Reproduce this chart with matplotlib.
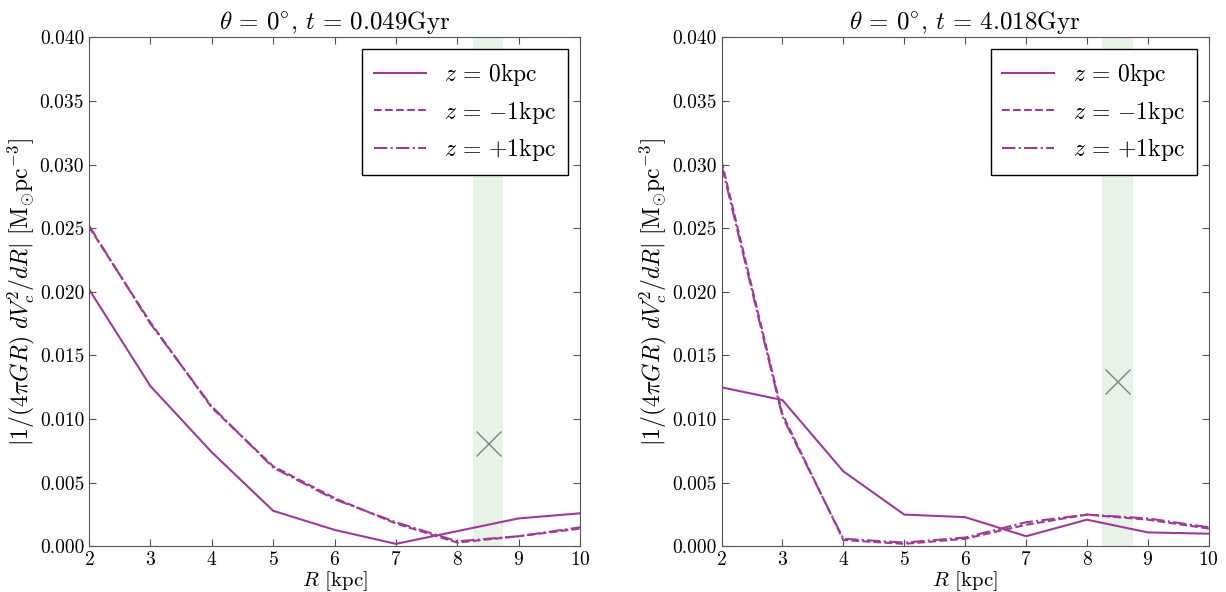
import numpy as np
import matplotlib
matplotlib.use("Agg")
import matplotlib.pyplot as plt

plt.rcParams['font.family'] = 'serif'
plt.rcParams['font.serif'] = ['cmr10', 'DejaVu Serif']
plt.rcParams['mathtext.fontset'] = 'cm'
plt.rcParams['axes.formatter.use_mathtext'] = True

# radius [kpc]
R = [2, 3, 4, 5, 6, 7, 8, 9, 10]

# t = 0.049 Gyr
left_z0 = [0.0202, 0.0126, 0.0074, 0.0028, 0.0013, 0.0002, 0.0012, 0.0022, 0.0026]
left_zm1 = [0.0251, 0.0176, 0.0109, 0.0063, 0.0038, 0.0018, 0.0003, 0.0008, 0.0014]
left_zp1 = [0.0252, 0.0175, 0.0110, 0.0062, 0.0037, 0.0019, 0.0004, 0.0008, 0.0015]

# t = 4.018 Gyr
right_z0 = [0.0125, 0.0115, 0.0059, 0.0025, 0.0023, 0.0008, 0.0021, 0.0011, 0.0010]
right_zm1 = [0.0303, 0.0104, 0.0005, 0.0002, 0.0006, 0.0017, 0.0025, 0.0021, 0.0014]
right_zp1 = [0.0300, 0.0102, 0.0006, 0.0003, 0.0007, 0.0019, 0.0025, 0.0022, 0.0015]

# solar position and measured value
sun_R = 8.5
sun_band = (8.25, 8.75)
sun_val = [0.0081, 0.0130]

titles = [r"$\theta\,=\,0^{\circ}$, $t\,=\,0.049$Gyr", r"$\theta\,=\,0^{\circ}$, $t\,=\,4.018$Gyr"]
labels = [r"$z\,=\,0$kpc", r"$z\,=\,{-}1$kpc", r"$z\,=\,{+}1$kpc"]

col = '#a03a98'

fig = plt.figure(figsize=(12.26, 5.92), dpi=100)
ax1 = fig.add_axes([0.0726, 0.077, 0.4005, 0.860])
ax2 = fig.add_axes([0.5885, 0.077, 0.3975, 0.860])

panels = [(ax1, left_z0, left_zm1, left_zp1),
          (ax2, right_z0, right_zm1, right_zp1)]

for i, (ax, z0, zm, zp) in enumerate(panels):
    ax.axvspan(sun_band[0], sun_band[1], color='#d8ecd8', alpha=0.6, lw=0)
    ax.plot(R, z0, '-', color=col, lw=1.5, label=labels[0])
    ax.plot(R, zm, '--', color=col, lw=1.5, label=labels[1])
    ax.plot(R, zp, '-.', color=col, lw=1.5, label=labels[2])
    ax.plot([sun_R], [sun_val[i]], 'x', color='gray', ms=18, mew=1.0)
    ax.set_xlim(2, 10)
    ax.set_ylim(0, 0.04)
    ax.set_yticks(np.arange(0, 0.0401, 0.005))
    ax.yaxis.set_major_formatter(matplotlib.ticker.FormatStrFormatter('%.3f'))
    ax.tick_params(direction='in', top=True, right=True, length=5,
                   labelsize=14, color='#555555')
    for s in ax.spines.values():
        s.set_color('#555555')
    ax.set_title(titles[i], fontsize=18, pad=6)
    ax.set_xlabel(r"$R$ [kpc]", fontsize=15, labelpad=0)
    ax.set_ylabel(r"$|1/(4\pi GR)\ dV_c^2/dR|\ [\mathrm{M}_{\odot}\mathrm{pc}^{-3}]$",
                  fontsize=17, labelpad=2)
    leg = ax.legend(loc='upper right', fontsize=17, handlelength=2.2,
                    fancybox=False, framealpha=1, borderpad=0.5, labelspacing=0.45)
    leg.get_frame().set_edgecolor('black')
    leg.get_frame().set_linewidth(1.0)

fig.savefig("out.png", dpi=100)
